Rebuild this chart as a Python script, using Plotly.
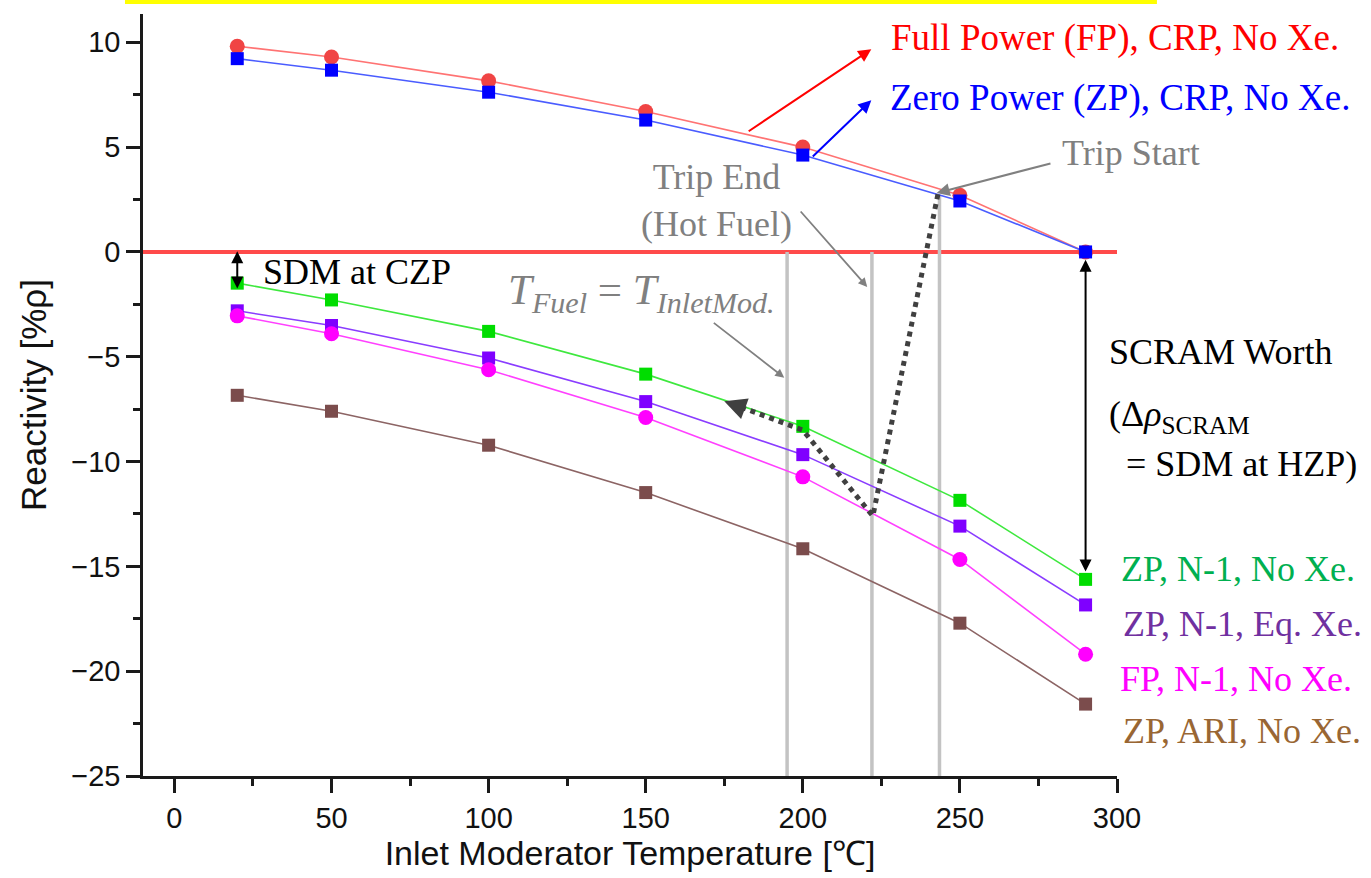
import plotly.graph_objects as go

# Inlet moderator temperature [deg C]
temperature = [20, 50, 100, 150, 200, 250, 290]

# Reactivity [%rho] for each core state
fp_crp_noxe = [9.81, 9.30, 8.16, 6.70, 5.00, 2.70, 0.0]
zp_crp_noxe = [9.22, 8.67, 7.62, 6.29, 4.62, 2.43, 0.0]
zp_n1_noxe = [-1.49, -2.29, -3.79, -5.83, -8.32, -11.85, -15.62]
zp_n1_eqxe = [-2.81, -3.51, -5.06, -7.14, -9.67, -13.08, -16.84]
fp_n1_noxe = [-3.05, -3.90, -5.62, -7.90, -10.73, -14.67, -19.19]
zp_ari_noxe = [-6.84, -7.60, -9.22, -11.48, -14.16, -17.71, -21.57]

# Trip transient guide lines and trajectory
trip_temps = [195.0, 222.0, 243.5]
trip_tops = [0.0, 0.0, 2.7]
trip_path_t = [243.0, 222.3, 200.0, 177.5]
trip_path_rho = [2.75, -12.6, -8.5, -7.25]

X_RANGE = [-10, 300]
Y_RANGE = [-25, 11.35]

SERIF = "Liberation Serif, Times New Roman, serif"
SANS = "Liberation Sans, Arial, sans-serif"


def xpaper(v):
    return (v - X_RANGE[0]) / (X_RANGE[1] - X_RANGE[0])


fig = go.Figure()

# zero-reactivity reference line
fig.add_trace(go.Scatter(x=X_RANGE, y=[0, 0], mode="lines",
                         line=dict(color="#ff4a4a", width=4), hoverinfo="skip"))

# vertical trip markers
for t, top in zip(trip_temps, trip_tops):
    fig.add_trace(go.Scatter(x=[t, t], y=[top, Y_RANGE[0]], mode="lines",
                             line=dict(color="#c3c3c3", width=3.5), hoverinfo="skip"))

series = [
    (fp_crp_noxe, "#f04444", "#ff7373", "circle", 15),
    (zp_crp_noxe, "#0000ff", "#4a5cff", "square", 13),
    (zp_n1_noxe, "#00dd00", "#3ee83e", "square", 13),
    (zp_n1_eqxe, "#7f00ff", "#8a3cff", "square", 13),
    (fp_n1_noxe, "#ff00ff", "#ff40ff", "circle", 15),
    (zp_ari_noxe, "#7b4c4c", "#8c6464", "square", 13),
]
for vals, mcol, lcol, sym, size in series:
    fig.add_trace(go.Scatter(
        x=temperature, y=vals, mode="lines+markers",
        line=dict(color=lcol, width=1.6),
        marker=dict(symbol=sym, size=size, color=mcol, line=dict(width=0)),
        hoverinfo="skip"))

# trip trajectory (dotted)
fig.add_trace(go.Scatter(x=trip_path_t, y=trip_path_rho, mode="lines",
                         line=dict(color="#404040", width=5, dash="dot"),
                         hoverinfo="skip"))

annotations = []


def arrow(x, y, ax, ay, color, width=2, size=1.3, both=False):
    d = dict(x=x, y=y, ax=ax, ay=ay, xref="x", yref="y", axref="x", ayref="y",
             text="", showarrow=True, arrowhead=2, arrowsize=size,
             arrowwidth=width, arrowcolor=color, standoff=0, startstandoff=0)
    if both:
        d.update(arrowside="end+start", startarrowhead=2, startarrowsize=size)
    annotations.append(d)


def label(x, y, text, color, size=36, xanchor="left", xref="x", family=SERIF):
    annotations.append(dict(x=x, y=y, xref=xref, yref="y", text=text,
                            showarrow=False, xanchor=xanchor, yanchor="middle",
                            align="center" if xanchor == "center" else "left",
                            font=dict(family=family, size=size, color=color)))


# series call-outs
arrow(221.8, 9.67, 182.3, 5.71, "#ff0000")
arrow(221.8, 7.24, 202.7, 4.48, "#0000ff")
label(227.5, 10.19, "Full Power (FP), CRP, No Xe.", "#ff0000", size=37)
label(227.0, 7.33, "Zero Power (ZP), CRP, No Xe.", "#0000ff", size=37)

# trip annotations
arrow(242.6, 2.81, 279.3, 4.24, "#808080")
label(282.0, 4.71, "Trip Start", "#808080")
arrow(220.5, -1.67, 198.9, 2.0, "#808080", width=1.8, size=1.0)
label(172.4, 2.45, "Trip End<br>(Hot Fuel)", "#808080", xanchor="center")
arrow(194.1, -6.0, 171.2, -3.33, "#808080", width=1.8, size=1.0)
label(148.5, -1.95,
      "<i>T</i><sub><i>Fuel</i></sub> = <i>T</i><sub><i>InletMod.</i></sub>",
      "#808080", size=43, xanchor="center")

# head of the dotted trajectory
annotations.append(dict(x=175.0, y=-7.12, xref="x", yref="y", ax=19, ay=7,
                        text="", showarrow=True, arrowhead=2, arrowsize=2.2,
                        arrowwidth=2, arrowcolor="#404040", standoff=0))

# shutdown margins
arrow(20, -1.75, 20, 0.1, "#000000", width=2, size=1.2, both=True)
label(27.5, -0.95, "SDM at CZP", "#000000")
arrow(290, -15.24, 290, -0.3, "#000000", width=2, size=1.2, both=True)
label(xpaper(296.8), -4.76, "SCRAM Worth", "#000000", xref="paper")
label(xpaper(296.8), -7.86, "(\u0394<i>\u03c1</i><sub>SCRAM</sub>", "#000000", xref="paper")
label(xpaper(302.2), -10.14, "= SDM at HZP)", "#000000", xref="paper")

# right-hand series labels
label(xpaper(300.6), -15.14, "ZP, N-1, No Xe.", "#00b050", xref="paper")
label(xpaper(301.3), -17.76, "ZP, N-1, Eq. Xe.", "#7030a0", xref="paper")
label(xpaper(300.3), -20.38, "FP, N-1, No Xe.", "#ff00ff", xref="paper")
label(xpaper(301.3), -22.86, "ZP, ARI, No Xe.", "#996633", xref="paper")

# highlight strip along the top edge
shapes = [dict(type="rect", xref="paper", yref="paper",
               x0=-0.0185, x1=1.041, y0=1.0131, y1=1.03,
               fillcolor="#ffff00", line=dict(width=0), layer="above")]

axis_common = dict(showgrid=False, zeroline=False, showline=True,
                   linecolor="#1a1a1a", linewidth=2.5, ticks="outside",
                   ticklen=14, tickwidth=2.5, tickcolor="#1a1a1a",
                   tickfont=dict(family=SANS, size=29, color="#111111"),
                   mirror=False)

fig.update_layout(
    width=1371, height=878,
    margin=dict(l=143, r=254, t=14, b=102),
    paper_bgcolor="white", plot_bgcolor="white",
    showlegend=False,
    annotations=annotations,
    shapes=shapes,
    xaxis=dict(range=X_RANGE, tick0=0, dtick=50,
               minor=dict(ticks="outside", ticklen=7, tickwidth=2.5,
                          tickcolor="#1a1a1a", dtick=25, tick0=0),
               title=dict(text="Inlet Moderator Temperature [\u2103]",
                          font=dict(family=SANS, size=34, color="#111111"),
                          standoff=6),
               **axis_common),
    yaxis=dict(range=Y_RANGE, tick0=0, dtick=5,
               minor=dict(ticks="outside", ticklen=7, tickwidth=2.5,
                          tickcolor="#1a1a1a", dtick=2.5, tick0=0),
               title=dict(text="Reactivity [%\u03c1]",
                          font=dict(family=SANS, size=35, color="#111111"),
                          standoff=14),
               **axis_common),
)

fig.write_html("out.html")
